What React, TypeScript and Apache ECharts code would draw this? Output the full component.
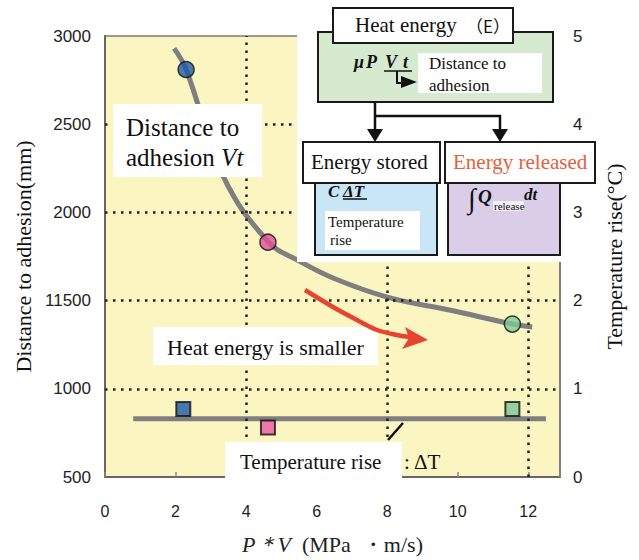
import React, { useEffect, useRef } from "react";
import * as echarts from "echarts";

// ---- data ----
const distX = [1.96, 2.3, 3.35, 4.62, 5.5, 6.5, 8.0, 9.8, 11.55, 12.11];
const distY = [2930, 2810, 2206, 1835, 1725, 1625, 1520, 1445, 1367, 1350];

const dotX = [2.3, 4.62, 11.55];
const dotY = [2810, 1831, 1367];
const dotColors = ["#1d5aa8", "#e4509a", "#7ecb98"];

const tempLineX = [0.8, 12.5];
const tempLineY = [0.66, 0.66];

const sqX = [2.22, 4.62, 11.55];
const sqY = [0.77, 0.56, 0.77];
const sqColors = ["#1c58a5", "#e85aa4", "#7dc79a"];

const vGridX = [4, 8, 12];
const hGridY = [1000, 1500, 2000, 2500];

const leftTickLabels: Record<number, string> = { 500: "500", 1000: "1000", 1500: "11500", 2000: "2000", 2500: "2500", 3000: "3000" };

const SERIF = "Liberation Serif, serif";
const SANS = "Liberation Sans, sans-serif";
const CJK = "Noto Sans CJK JP, sans-serif";

function txt(text: string, x: number, y: number, size: number, extra: any = {}) {
  return {
    type: "text",
    x,
    y,
    z: 110,
    style: {
      text,
      fontSize: size,
      fontFamily: SERIF,
      fill: "#111",
      align: "left",
      verticalAlign: "middle",
      ...extra,
    },
  };
}

function box(x: number, y: number, w: number, h: number, fill: string, stroke = true, z = 100) {
  return {
    type: "rect",
    z,
    shape: { x, y, width: w, height: h },
    style: stroke ? { fill, stroke: "#1a1a1a", lineWidth: 2 } : { fill },
  };
}

export default function App() {
  const ref = useRef<HTMLDivElement>(null);

  useEffect(() => {
    if (!ref.current) return;
    const chart = echarts.init(ref.current, null, { renderer: "svg" });

    const bi = { fontWeight: "bold", fontStyle: "italic" };

    const graphics: any[] = [
      // white cover of the upper-right plot area (diagram background)
      box(297, 28, 268, 234, "#ffffff", false, 95),
      // heat energy green box
      box(318, 32, 235, 70, "#d5eacf"),
      box(333, 8, 180, 35, "#ffffff"),
      txt("Heat energy", 355, 25, 21),
      txt("（E）", 466, 25, 17, { fontFamily: CJK }),
      // mu P V t
      txt("μ", 354, 62, 18, bi),
      txt("P", 366, 62, 18, bi),
      txt("V", 385, 62, 18, bi),
      txt("t", 403, 62, 18, bi),
      { type: "line", z: 110, shape: { x1: 384, y1: 71, x2: 412, y2: 71 }, style: { stroke: "#111", lineWidth: 1.5 } },
      { type: "polyline", z: 110, shape: { points: [[397, 71], [397, 83], [404, 83]] }, style: { stroke: "#111", lineWidth: 2, fill: null } },
      { type: "polygon", z: 110, shape: { points: [[401, 76], [401, 88], [417, 82]] }, style: { fill: "#111" } },
      box(418, 53, 124, 40, "#ffffff", false, 105),
      txt("Distance to", 429, 63, 17),
      txt("adhesion", 429, 85, 17),
      // connectors
      { type: "polyline", z: 110, shape: { points: [[375, 102], [375, 131]] }, style: { stroke: "#111", lineWidth: 2.5, fill: null } },
      { type: "polyline", z: 110, shape: { points: [[375, 116], [500, 116], [500, 131]] }, style: { stroke: "#111", lineWidth: 2.5, fill: null } },
      { type: "polygon", z: 110, shape: { points: [[367, 129], [383, 129], [375, 142]] }, style: { fill: "#111" } },
      { type: "polygon", z: 110, shape: { points: [[492, 129], [508, 129], [500, 142]] }, style: { fill: "#111" } },
      // energy stored / released
      box(315, 183, 122, 72, "#c8e6f6"),
      box(448, 183, 112, 72, "#d9cde7"),
      box(303, 142, 137, 41, "#ffffff"),
      box(445, 142, 150, 41, "#ffffff"),
      txt("Energy stored", 311, 162, 21),
      txt("Energy released", 453, 162, 21, { fill: "#e5603a" }),
      // C delta T
      txt("C", 328, 191, 17, bi),
      txt("ΔT", 343, 191, 17, bi),
      { type: "line", z: 110, shape: { x1: 343, y1: 199, x2: 367, y2: 199 }, style: { stroke: "#111", lineWidth: 1.5 } },
      box(325, 211, 95, 39, "#ffffff", false, 105),
      txt("Temperature", 328, 222, 15),
      txt("rise", 330, 240, 15),
      // integral Q release dt
      txt("∫", 468, 198, 28),
      txt("Q", 478, 196, 19, bi),
      box(493, 201, 31, 10, "#f4f0f8", false, 105),
      txt("release", 494, 206, 11),
      txt("dt", 524, 194, 17, bi),
      // Distance to adhesion Vt label
      box(113, 104, 149, 73, "#ffffff", false),
      txt("Distance to", 126, 127, 25),
      {
        type: "text",
        x: 126,
        y: 157,
        z: 110,
        style: {
          text: "adhesion {i|Vt}",
          fontSize: 25,
          fontFamily: SERIF,
          fill: "#111",
          align: "left",
          verticalAlign: "middle",
          rich: { i: { fontSize: 25, fontFamily: SERIF, fontStyle: "italic", fill: "#111" } },
        },
      },
      // heat energy is smaller
      box(153, 327, 225, 38, "#ffffff", false),
      txt("Heat energy is smaller", 167, 347, 22),
      // red arrow
      {
        type: "polyline",
        z: 110,
        shape: { points: [[305, 290], [333, 307], [357, 320], [377, 330], [397, 335], [410, 337]], smooth: 0.3 },
        style: { stroke: "#e8432f", lineWidth: 4.5, fill: null },
      },
      { type: "polygon", z: 110, shape: { points: [[405, 327], [428, 340], [402, 349], [409, 338]] }, style: { fill: "#e8432f" } },
      // temperature rise label
      box(225, 442, 177, 38, "#ffffff", false),
      txt("Temperature rise", 240, 462, 21),
      txt(": ΔT", 404, 462, 21),
      { type: "line", z: 110, shape: { x1: 388, y1: 440, x2: 403, y2: 423 }, style: { stroke: "#111", lineWidth: 2.5 } },
    ];

    const option: any = {
      animation: false,
      backgroundColor: "#ffffff",
      grid: {
        left: 105,
        top: 36,
        width: 455,
        height: 447,
        show: true,
        backgroundColor: "#fbf5c2",
        borderColor: "#7a7a7a",
        borderWidth: 1.5,
      },
      xAxis: {
        type: "value",
        min: 0,
        max: 12.9,
        interval: 2,
        axisLine: { show: true, lineStyle: { color: "#666", width: 2 } },
        axisTick: { show: true, inside: true, length: 5, lineStyle: { color: "#888", width: 1.5 } },
        splitLine: { show: false },
        axisLabel: {
          formatter: (v: number) => (Number.isInteger(v) ? String(v) : ""),
          fontSize: 16,
          color: "#222",
          fontFamily: SANS,
          margin: 26,
        },
        name: "{i|P＊V}  (MPa  ・m/s)",
        nameLocation: "middle",
        nameGap: 56,
        nameTextStyle: {
          fontSize: 22,
          fontFamily: SERIF,
          color: "#222",
          rich: { i: { fontSize: 22, fontFamily: SERIF, fontStyle: "italic", color: "#222" } },
        },
      },
      yAxis: [
        {
          type: "value",
          min: 500,
          max: 3000,
          interval: 500,
          position: "left",
          axisLine: { show: true, lineStyle: { color: "#666", width: 2 } },
          axisTick: { show: false },
          splitLine: { show: false },
          axisLabel: {
            formatter: (v: number) => leftTickLabels[v] ?? String(v),
            fontSize: 17,
            color: "#222",
            fontFamily: SANS,
            margin: 14,
          },
          name: "Distance to adhesion(mm)",
          nameLocation: "middle",
          nameGap: 70,
          nameRotate: 90,
          nameTextStyle: { fontSize: 22, fontFamily: SERIF, color: "#111" },
        },
        {
          type: "value",
          min: 0,
          max: 5,
          interval: 1,
          position: "right",
          axisLine: { show: true, lineStyle: { color: "#777", width: 1.5 } },
          axisTick: { show: false },
          splitLine: { show: false },
          axisLabel: { fontSize: 17, color: "#222", fontFamily: SANS, margin: 13 },
          name: "Temperature rise(°C)",
          nameLocation: "middle",
          nameGap: 43,
          nameRotate: 90,
          nameTextStyle: { fontSize: 22, fontFamily: SERIF, color: "#111" },
        },
      ],
      series: [
        {
          type: "line",
          yAxisIndex: 0,
          data: distX.map((x, i) => [x, distY[i]]),
          smooth: 0.4,
          symbol: "none",
          lineStyle: { color: "#7f7f7f", width: 5 },
          z: 3,
          markLine: {
            silent: true,
            symbol: ["none", "none"],
            label: { show: false },
            lineStyle: { type: [2.5, 5.5], color: "#222", width: 2.5 },
            data: [...vGridX.map((x) => ({ xAxis: x })), ...hGridY.map((y) => ({ yAxis: y }))],
          },
        },
        {
          type: "scatter",
          yAxisIndex: 0,
          symbol: "circle",
          symbolSize: 16,
          z: 5,
          data: dotX.map((x, i) => ({ value: [x, dotY[i]], itemStyle: { color: dotColors[i] } })),
          itemStyle: { borderColor: "#111", borderWidth: 1.5 },
        },
        {
          type: "line",
          yAxisIndex: 1,
          data: tempLineX.map((x, i) => [x, tempLineY[i]]),
          symbol: "none",
          lineStyle: { color: "#7f7f7f", width: 5 },
          z: 3,
        },
        {
          type: "scatter",
          yAxisIndex: 1,
          symbol: "rect",
          symbolSize: 14,
          z: 5,
          data: sqX.map((x, i) => ({ value: [x, sqY[i]], itemStyle: { color: sqColors[i] } })),
          itemStyle: { borderColor: "#111", borderWidth: 2 },
        },
      ],
      graphic: graphics,
    };

    chart.setOption(option);
    return () => chart.dispose();
  }, []);

  return <div ref={ref} style={{ position: "fixed", left: 0, top: 0, width: 639, height: 560 }} />;
}
